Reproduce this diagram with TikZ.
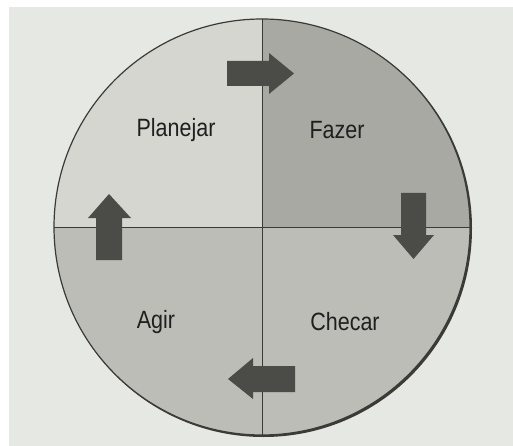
\documentclass[tikz,border=0pt]{standalone}
\usepackage{fontspec}
\setmainfont{Liberation Sans}
\definecolor{page}{HTML}{E6E8E3}
\definecolor{plan}{HTML}{D5D6CF}
\definecolor{faz}{HTML}{A8A9A3}
\definecolor{low}{HTML}{BDBDB7}
\definecolor{arr}{HTML}{4B4C47}
\definecolor{edge}{HTML}{3A3B37}
\tikzset{
  lbl/.style={font=\fontsize{25}{27}\selectfont, text=black!88, xscale=0.86, inner sep=0pt},
  arrowshape/.style={fill=arr, draw=none},
  divider/.style={draw=edge, line width=0.9pt}
}
\begin{document}
\begin{tikzpicture}[x=1pt,y=-1pt]
\useasboundingbox (0,0) rectangle (513,446);
\fill[white] (0,0) rectangle (513,446);
\fill[page] (9,7) rectangle (513,446);
\coordinate (c) at (262,227);
% shadow
\fill[edge] (263.5,228.5) circle (208.5);
% quadrants
\fill[plan] (c) -- (54,227) arc (180:270:208) -- cycle;
\fill[faz] (c) -- (262,19) arc (270:360:208) -- cycle;
\fill[low] (c) -- (470,227) arc (0:180:208) -- cycle;
\draw[divider] (54,227) -- (470,227);
\draw[divider] (262,19) -- (262,435);
\draw[edge, line width=1.2pt] (c) circle (208);
% arrows
\fill[arrowshape] (227,61) -- (269,61) -- (269,53) -- (294,73.5) -- (269,94) -- (269,86) -- (227,86) -- cycle;
\fill[arrowshape] (401,193) -- (426,193) -- (426,235) -- (434,235) -- (413.5,259) -- (393,235) -- (401,235) -- cycle;
\fill[arrowshape] (295,366) -- (253,366) -- (253,358) -- (228,379) -- (253,399) -- (253,392) -- (295,392) -- cycle;
\fill[arrowshape] (96,260) -- (96,218) -- (88,218) -- (109,194) -- (131,218) -- (122,218) -- (122,260) -- cycle;
% labels
\node[lbl] (planejar) at (176,130) {Planejar};
\node[lbl] (fazer) at (337,130) {Fazer};
\node[lbl] (agir) at (156,322) {Agir};
\node[lbl] (checar) at (345,322) {Checar};
\end{tikzpicture}
\end{document}
